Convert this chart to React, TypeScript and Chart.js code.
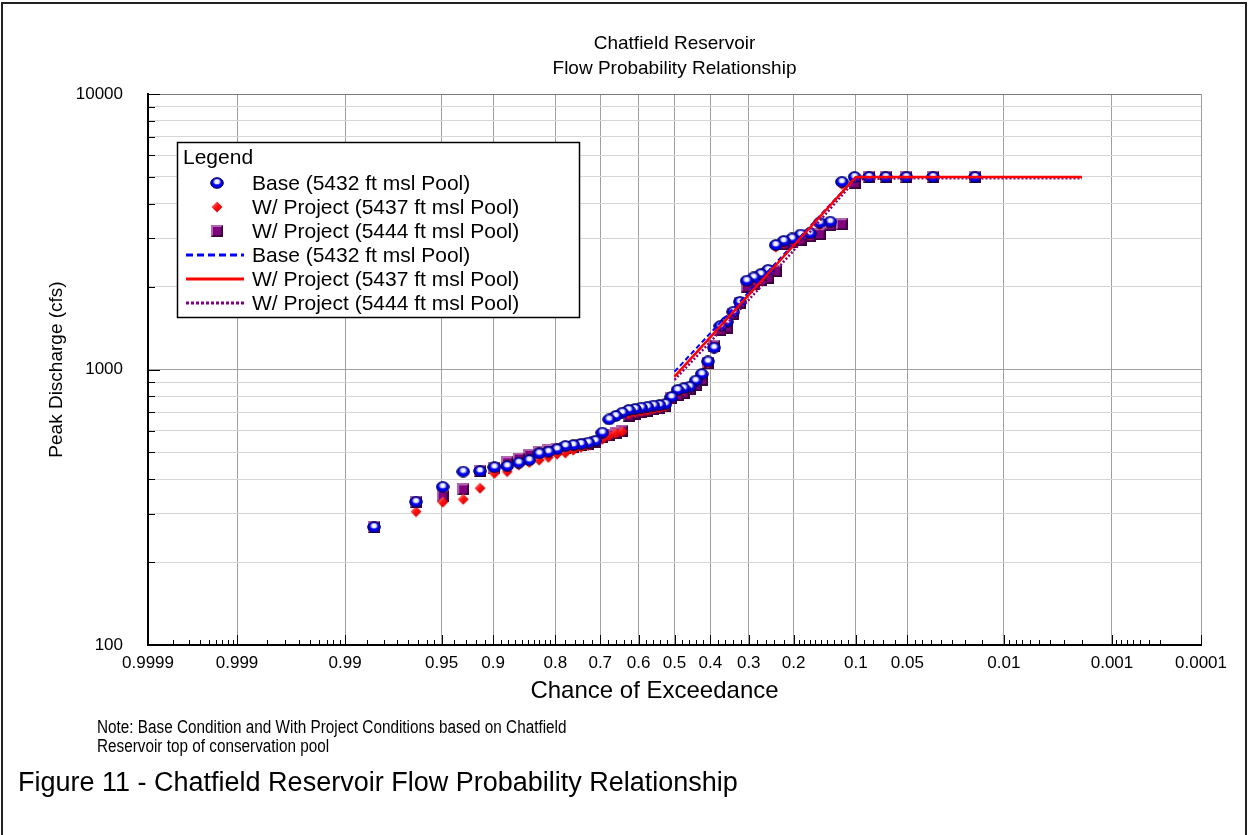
import React, { useEffect, useRef } from 'react';
import { Chart, Scale, registerables } from 'chart.js';

// ---------------- data ----------------
// Exceedance probability (plotting position) of each ranked annual peak
const EXCEEDANCE = [
  0.0169, 0.0339, 0.0508, 0.0678, 0.0847, 0.1017, 0.1186, 0.1356, 0.1525, 0.1695,
  0.1864, 0.2034, 0.2203, 0.2373, 0.2542, 0.2712, 0.2881, 0.3051, 0.322, 0.339,
  0.3559, 0.3729, 0.3898, 0.4068, 0.4237, 0.4407, 0.4576, 0.4746, 0.4915, 0.5085,
  0.5254, 0.5424, 0.5593, 0.5763, 0.5932, 0.6102, 0.6271, 0.6441, 0.661, 0.678,
  0.6949, 0.7119, 0.7288, 0.7458, 0.7627, 0.7797, 0.7966, 0.8136, 0.8305, 0.8475,
  0.8644, 0.8814, 0.8983, 0.9153, 0.9322, 0.9492, 0.9661, 0.9831,
];
const BASE_PEAKS = [
  5000, 5000, 5000, 5000, 5000, 5000, 4800, 3440, 3410, 3120,
  3090, 2990, 2930, 2830, 2300, 2220, 2160, 2100, 1760, 1620,
  1490, 1440, 1200, 1070, 963, 911, 866, 855, 843, 795,
  750, 743, 740, 732, 727, 719, 713, 697, 678, 659,
  590, 551, 543, 537, 532, 528, 514, 503, 496, 469,
  459, 446, 442, 428, 426, 375, 331, 268,
];
const PROJECT_5437_PEAKS = [
  5000, 5000, 5000, 5000, 5000, 5000, 4700, 3400, 3350, 3080,
  3050, 2950, 2880, 2780, 2270, 2190, 2130, 2070, 1740, 1600,
  1470, 1420, 1190, 1055, 950, 900, 855, 840, 825, 780,
  735, 725, 720, 710, 705, 700, 690, 595, 587, 575,
  558, 547, 530, 522, 510, 498, 493, 480, 469, 460,
  450, 426, 420, 371, 338, 330, 305, 268,
];
const PROJECT_5444_PEAKS = [
  5000, 5000, 5000, 5000, 5000, 4760, 3370, 3340, 3100, 3040,
  2960, 2900, 2850, 2280, 2150, 2110, 2050, 2000, 1750, 1590,
  1420, 1390, 1220, 1054, 916, 876, 850, 820, 805, 785,
  740, 725, 718, 708, 700, 692, 680, 600, 590, 580,
  570, 545, 535, 530, 525, 520, 515, 510, 500, 490,
  475, 460, 440, 428, 367, 347, 331, 268,
];
// Fitted frequency curves
const CURVE_EXCEEDANCE = [0.5, 0.4, 0.3, 0.2, 0.1, 0.05, 0.01, 0.002];
const BASE_CURVE = [982, 1355, 1910, 2858, 5000, 5000, 5000, 5000];
const PROJECT_5437_CURVE = [942, 1310, 1866, 2819, 5000, 5000, 5000, 5000];
const PROJECT_5444_CURVE = [917, 1260, 1790, 2700, 4900, 4950, 4950, 4950];

const SERIES_LABELS = [
  'Base (5432 ft msl Pool)',
  'W/ Project (5437 ft msl Pool)',
  'W/ Project (5444 ft msl Pool)',
];

// Axis ticks
const X_TICKS = [0.9999, 0.999, 0.99, 0.95, 0.9, 0.8, 0.7, 0.6, 0.5, 0.4, 0.3, 0.2, 0.1, 0.05, 0.01, 0.001, 0.0001];
const X_TICK_LABELS = ['0.9999', '0.999', '0.99', '0.95', '0.9', '0.8', '0.7', '0.6', '0.5', '0.4', '0.3', '0.2', '0.1', '0.05', '0.01', '0.001', '0.0001'];
const X_MINOR_TICKS = [
  0.9998, 0.9997, 0.9996, 0.9995, 0.9994, 0.9993, 0.9992, 0.9991,
  0.998, 0.997, 0.996, 0.995, 0.994, 0.993, 0.992, 0.991,
  0.985, 0.98, 0.975, 0.97, 0.965, 0.96, 0.955,
  0.94, 0.93, 0.92, 0.91,
  0.89, 0.88, 0.87, 0.86, 0.85, 0.84, 0.83, 0.82, 0.81,
  0.78, 0.76, 0.74, 0.72, 0.68, 0.66, 0.64, 0.62, 0.58, 0.56, 0.54, 0.52,
  0.48, 0.46, 0.44, 0.42, 0.38, 0.36, 0.34, 0.32, 0.28, 0.26, 0.24, 0.22,
  0.19, 0.18, 0.17, 0.16, 0.15, 0.14, 0.13, 0.12, 0.11,
  0.09, 0.08, 0.07, 0.06,
  0.045, 0.04, 0.035, 0.03, 0.025, 0.02, 0.015,
  0.009, 0.008, 0.007, 0.006, 0.005, 0.004, 0.003, 0.002,
  0.0009, 0.0008, 0.0007, 0.0006, 0.0005, 0.0004, 0.0003,
];
const Y_TICKS = [100, 200, 300, 400, 500, 600, 700, 800, 900, 1000, 2000, 3000, 4000, 5000, 6000, 7000, 8000, 9000, 10000];
const Y_LABELED = [100, 1000, 10000];
const Y_TICK_LABELS = ['100', '1000', '10000'];

const CHART_TITLE = ['Chatfield Reservoir', 'Flow Probability Relationship'];
const X_TITLE = 'Chance of Exceedance';
const Y_TITLE = 'Peak Discharge (cfs)';
const LEGEND_TITLE = 'Legend';
const NOTE_LINES = ['Note: Base Condition and With Project Conditions based on Chatfield', 'Reservoir top of conservation pool'];
const CAPTION = 'Figure 11 - Chatfield Reservoir Flow Probability Relationship';

const FONT = '"Liberation Sans", Arial, Helvetica, sans-serif';

// ---------------- normal probability scale ----------------
function normInv(p: number): number {
  const a = [-3.969683028665376e1, 2.209460984245205e2, -2.759285104469687e2, 1.38357751867269e2, -3.066479806614716e1, 2.506628277459239];
  const b = [-5.447609879822406e1, 1.615858368580409e2, -1.556989798598866e2, 6.680131188771972e1, -1.328068155288572e1];
  const c = [-7.784894002430293e-3, -3.223964580411365e-1, -2.400758277161838, -2.54967101022847, 4.374664141464968, 2.938163982698783];
  const d = [7.784695709041462e-3, 3.224671290700398e-1, 2.445134137142996, 3.754408661907416];
  const pl = 0.02425;
  if (p < pl) {
    const q = Math.sqrt(-2 * Math.log(p));
    return (((((c[0] * q + c[1]) * q + c[2]) * q + c[3]) * q + c[4]) * q + c[5]) / ((((d[0] * q + d[1]) * q + d[2]) * q + d[3]) * q + 1);
  }
  if (p <= 1 - pl) {
    const q = p - 0.5, r = q * q;
    return ((((((a[0] * r + a[1]) * r + a[2]) * r + a[3]) * r + a[4]) * r + a[5]) * q) / (((((b[0] * r + b[1]) * r + b[2]) * r + b[3]) * r + b[4]) * r + 1);
  }
  const q = Math.sqrt(-2 * Math.log(1 - p));
  return -(((((c[0] * q + c[1]) * q + c[2]) * q + c[3]) * q + c[4]) * q + c[5]) / ((((d[0] * q + d[1]) * q + d[2]) * q + d[3]) * q + 1);
}
function normCdf(z: number): number {
  const t = 1 / (1 + 0.3275911 * Math.abs(z) / Math.SQRT2);
  const y = 1 - (((((1.061405429 * t - 1.453152027) * t) + 1.421413741) * t - 0.284496736) * t + 0.254829592) * t * Math.exp(-z * z / 2);
  const erf = z >= 0 ? y : -y;
  return 0.5 * (1 + erf);
}
// exceedance probability -> standard normal deviate (increasing to the right)
const exceedToZ = (p: number) => -normInv(p);

class ProbabilityScale extends (Scale as any) {
  static id = 'probability';
  static defaults = {};
  _zStart = 0;
  _zEnd = 1;
  determineDataLimits() {
    const o: any = this.options;
    this.min = o.probStart ?? 0.9999;
    this.max = o.probEnd ?? 0.0001;
  }
  buildTicks() {
    const o: any = this.options;
    return (o.tickValues || []).map((v: number) => ({ value: v }));
  }
  getLabelForValue(v: number) {
    return String(v);
  }
  configure() {
    super.configure();
    this._zStart = exceedToZ(this.min);
    this._zEnd = exceedToZ(this.max);
  }
  getPixelForValue(v: number) {
    if (v === null || v === undefined || isNaN(v)) return NaN;
    return this.getPixelForDecimal((exceedToZ(v) - this._zStart) / (this._zEnd - this._zStart));
  }
  getValueForPixel(px: number) {
    const z = this._zStart + this.getDecimalForPixel(px) * (this._zEnd - this._zStart);
    return 1 - normCdf(z);
  }
}

Chart.register(...registerables, ProbabilityScale as any);

// ---------------- markers ----------------
function makeSphere() {
  const c = document.createElement('canvas');
  c.width = 14; c.height = 12;
  const g = c.getContext('2d')!;
  const cx = 7, cy = 6;
  g.beginPath();
  g.ellipse(cx, cy, 6.3, 5.3, 0, 0, Math.PI * 2);
  g.fillStyle = '#0000ee';
  g.fill();
  // specular highlight
  const grad = g.createRadialGradient(cx, cy - 1.2, 0.3, cx, cy - 1.2, 4.2);
  grad.addColorStop(0, 'rgba(255,255,255,1)');
  grad.addColorStop(0.45, 'rgba(255,255,255,0.9)');
  grad.addColorStop(1, 'rgba(255,255,255,0)');
  g.fillStyle = grad;
  g.beginPath();
  g.ellipse(cx, cy - 1.2, 4.4, 2.8, 0, 0, Math.PI * 2);
  g.fill();
  g.beginPath();
  g.ellipse(cx, cy, 6.3, 5.3, 0, 0, Math.PI * 2);
  g.lineWidth = 1;
  g.strokeStyle = '#000040';
  g.stroke();
  return c;
}
function makeDiamond() {
  const c = document.createElement('canvas');
  c.width = 12; c.height = 12;
  const g = c.getContext('2d')!;
  g.beginPath();
  g.moveTo(6, 0.5); g.lineTo(11.5, 6); g.lineTo(6, 11.5); g.lineTo(0.5, 6); g.closePath();
  const grad = g.createLinearGradient(1, 1, 11, 11);
  grad.addColorStop(0, '#ff9a9a');
  grad.addColorStop(0.45, '#ff1010');
  grad.addColorStop(1, '#c80000');
  g.fillStyle = grad;
  g.fill();
  return c;
}
function makeSquare() {
  const c = document.createElement('canvas');
  c.width = 12; c.height = 12;
  const g = c.getContext('2d')!;
  g.fillStyle = '#b066b0';
  g.fillRect(0, 0, 12, 12);
  g.fillStyle = '#3c003c';
  g.beginPath(); g.moveTo(12, 0); g.lineTo(12, 12); g.lineTo(0, 12); g.lineTo(2, 10); g.lineTo(10, 10); g.lineTo(10, 2); g.closePath(); g.fill();
  g.fillStyle = '#800080';
  g.fillRect(2, 2, 8, 8);
  return c;
}

export default function App() {
  const ref = useRef<HTMLCanvasElement | null>(null);

  useEffect(() => {
    if (!ref.current) return;
    const sphere = makeSphere();
    const diamond = makeDiamond();
    const square = makeSquare();

    const pts = (xs: number[], ys: number[]) => xs.map((x, i) => ({ x, y: ys[i] }));

    const overlay = {
      id: 'overlay',
      afterDraw(chart: any) {
        const { ctx, chartArea: a, scales } = chart;
        const xs = scales.x, ys = scales.y;
        ctx.save();
        // inward tick marks
        ctx.strokeStyle = '#000';
        ctx.lineWidth = 1;
        ctx.beginPath();
        X_TICKS.forEach((v) => {
          const px = Math.round(xs.getPixelForValue(v)) + 0.5;
          ctx.moveTo(px, a.bottom); ctx.lineTo(px, a.bottom - 10);
        });
        X_MINOR_TICKS.forEach((v) => {
          const px = Math.round(xs.getPixelForValue(v)) + 0.5;
          ctx.moveTo(px, a.bottom); ctx.lineTo(px, a.bottom - 5);
        });
        Y_TICKS.forEach((v) => {
          const py = Math.round(ys.getPixelForValue(v)) + 0.5;
          const len = Y_LABELED.includes(v) ? 12 : 7;
          ctx.moveTo(a.left, py); ctx.lineTo(a.left + len, py);
        });
        ctx.stroke();

        // x-axis title (set slightly left of the plot centre, as in the source)
        ctx.fillStyle = '#000';
        ctx.font = '24px ' + FONT;
        ctx.textAlign = 'center';
        ctx.textBaseline = 'middle';
        ctx.fillText(X_TITLE, (a.left + a.right) / 2 - 20, 691);

        // legend box
        const L = { x: 177.5, y: 142.5, w: 402, h: 175 };
        ctx.fillStyle = '#fff';
        ctx.fillRect(L.x, L.y, L.w, L.h);
        ctx.strokeStyle = '#000';
        ctx.lineWidth = 1.5;
        ctx.strokeRect(L.x, L.y, L.w, L.h);
        ctx.fillStyle = '#000';
        ctx.font = '21px ' + FONT;
        ctx.textBaseline = 'middle';
        ctx.textAlign = 'left';
        ctx.fillText(LEGEND_TITLE, 183, 158);
        const rows = [183, 207, 231, 255, 279, 303];
        const markers = [sphere, diamond, square];
        for (let i = 0; i < 3; i++) {
          const m = markers[i];
          ctx.drawImage(m, Math.round(217 - m.width / 2), Math.round(rows[i] - m.height / 2));
          ctx.fillText(SERIES_LABELS[i], 252, rows[i] + 1);
        }
        const lineStyles = [
          { color: '#0000ff', dash: [7, 4], w: 3 },
          { color: '#ff0000', dash: [], w: 3 },
          { color: '#800080', dash: [3, 2], w: 3 },
        ];
        for (let i = 0; i < 3; i++) {
          const s = lineStyles[i];
          const y = rows[i + 3];
          ctx.strokeStyle = s.color;
          ctx.lineWidth = s.w;
          ctx.setLineDash(s.dash);
          ctx.beginPath(); ctx.moveTo(186, y); ctx.lineTo(244, y); ctx.stroke();
          ctx.setLineDash([]);
          ctx.fillText(SERIES_LABELS[i], 252, y + 1);
        }
        ctx.restore();
      },
    };

    const chart = new Chart(ref.current, {
      type: 'line',
      data: {
        datasets: [
          { label: SERIES_LABELS[1], data: pts(CURVE_EXCEEDANCE, PROJECT_5437_CURVE), borderColor: '#ff0000', borderWidth: 2.5, pointRadius: 0, tension: 0, fill: false },
          { label: SERIES_LABELS[0], data: pts(CURVE_EXCEEDANCE, BASE_CURVE), borderColor: '#0000ff', borderWidth: 2, borderDash: [5, 3], pointRadius: 0, tension: 0, fill: false },
          { label: SERIES_LABELS[2], data: pts(CURVE_EXCEEDANCE, PROJECT_5444_CURVE), borderColor: '#800080', borderWidth: 2.5, borderDash: [2, 2], pointRadius: 0, tension: 0, fill: false },
          { label: SERIES_LABELS[0], data: pts(EXCEEDANCE, BASE_PEAKS), showLine: false, pointStyle: sphere as any, pointRadius: 6 },
          { label: SERIES_LABELS[1], data: pts(EXCEEDANCE, PROJECT_5437_PEAKS), showLine: false, pointStyle: diamond as any, pointRadius: 6 },
          { label: SERIES_LABELS[2], data: pts(EXCEEDANCE, PROJECT_5444_PEAKS), showLine: false, pointStyle: square as any, pointRadius: 6 },
        ] as any,
      },
      options: {
        responsive: false,
        animation: false,
        events: [],
        layout: { padding: { left: 0, right: 48, top: 0, bottom: 120 } },
        plugins: {
          legend: { display: false },
          tooltip: { enabled: false },
          title: {
            display: true,
            text: CHART_TITLE,
            fullSize: false,
            color: '#000',
            font: { family: FONT, size: 19, weight: 'normal', lineHeight: 25 / 19 },
            padding: { top: 31.5, bottom: 12.5 },
          },
        },
        scales: {
          x: {
            type: 'probability' as any,
            position: 'bottom',
            probStart: 0.9999,
            probEnd: 0.0001,
            tickValues: X_TICKS,
            afterFit: (s: any) => { s.height = 70; s.paddingLeft = 0; s.paddingRight = 0; },
            grid: { color: '#a0a0a0', lineWidth: 1, drawTicks: false },
            border: { display: true, color: '#000', width: 2 },
            ticks: {
              autoSkip: false,
              maxRotation: 0,
              minRotation: 0,
              padding: 8,
              color: '#000',
              font: { family: FONT, size: 17 },
              callback: (v: any) => {
                const i = X_TICKS.indexOf(v);
                return i >= 0 ? X_TICK_LABELS[i] : '';
              },
            },
            title: { display: false },
          } as any,
          y: {
            type: 'logarithmic',
            position: 'left',
            min: 100,
            max: 10000,
            afterBuildTicks: (s: any) => { s.ticks = Y_TICKS.map((v) => ({ value: v })); },
            afterFit: (s: any) => { s.width = 148; s.paddingTop = 0; s.paddingBottom = 0; },
            grid: {
              drawTicks: false,
              lineWidth: 1,
              color: (c: any) => {
                const v = c.tick && c.tick.value;
                if (v === 10000) return '#7a7a7a';
                if (v === 1000) return '#a0a0a0';
                return '#d6d6d6';
              },
            },
            border: { display: true, color: '#000', width: 2 },
            ticks: {
              autoSkip: false,
              padding: 25,
              color: '#000',
              font: { family: FONT, size: 17 },
              callback: (v: any) => {
                const i = Y_LABELED.indexOf(v);
                return i >= 0 ? Y_TICK_LABELS[i] : '';
              },
            },
            title: {
              display: true,
              text: Y_TITLE,
              color: '#000',
              font: { family: FONT, size: 19 },
              padding: { top: 45.6, bottom: 0 },
            },
          },
        },
      } as any,
      plugins: [overlay],
    });
    return () => chart.destroy();
  }, []);

  return (
    <div style={{ position: 'absolute', left: 0, top: 0, width: 1249, height: 835, overflow: 'hidden', background: '#fff', fontFamily: FONT }}>
      <div style={{ position: 'absolute', left: 1, top: 2, width: 1246, height: 900, border: '2px solid #222', boxSizing: 'border-box' }} />
      <canvas ref={ref} width={1249} height={835} style={{ position: 'absolute', left: 0, top: 0 }} />
      <div style={{ position: 'absolute', left: 97, top: 718, fontFamily: FONT, fontSize: 18, lineHeight: '19px', color: '#000', whiteSpace: 'nowrap', transform: 'scaleX(0.85)', transformOrigin: '0 0' }}>
        <div>{NOTE_LINES[0]}</div>
        <div>{NOTE_LINES[1]}</div>
      </div>
      <div style={{ position: 'absolute', left: 18, top: 766, fontSize: 27, lineHeight: '32px', color: '#000', whiteSpace: 'nowrap' }}>
        {CAPTION}
      </div>
    </div>
  );
}
